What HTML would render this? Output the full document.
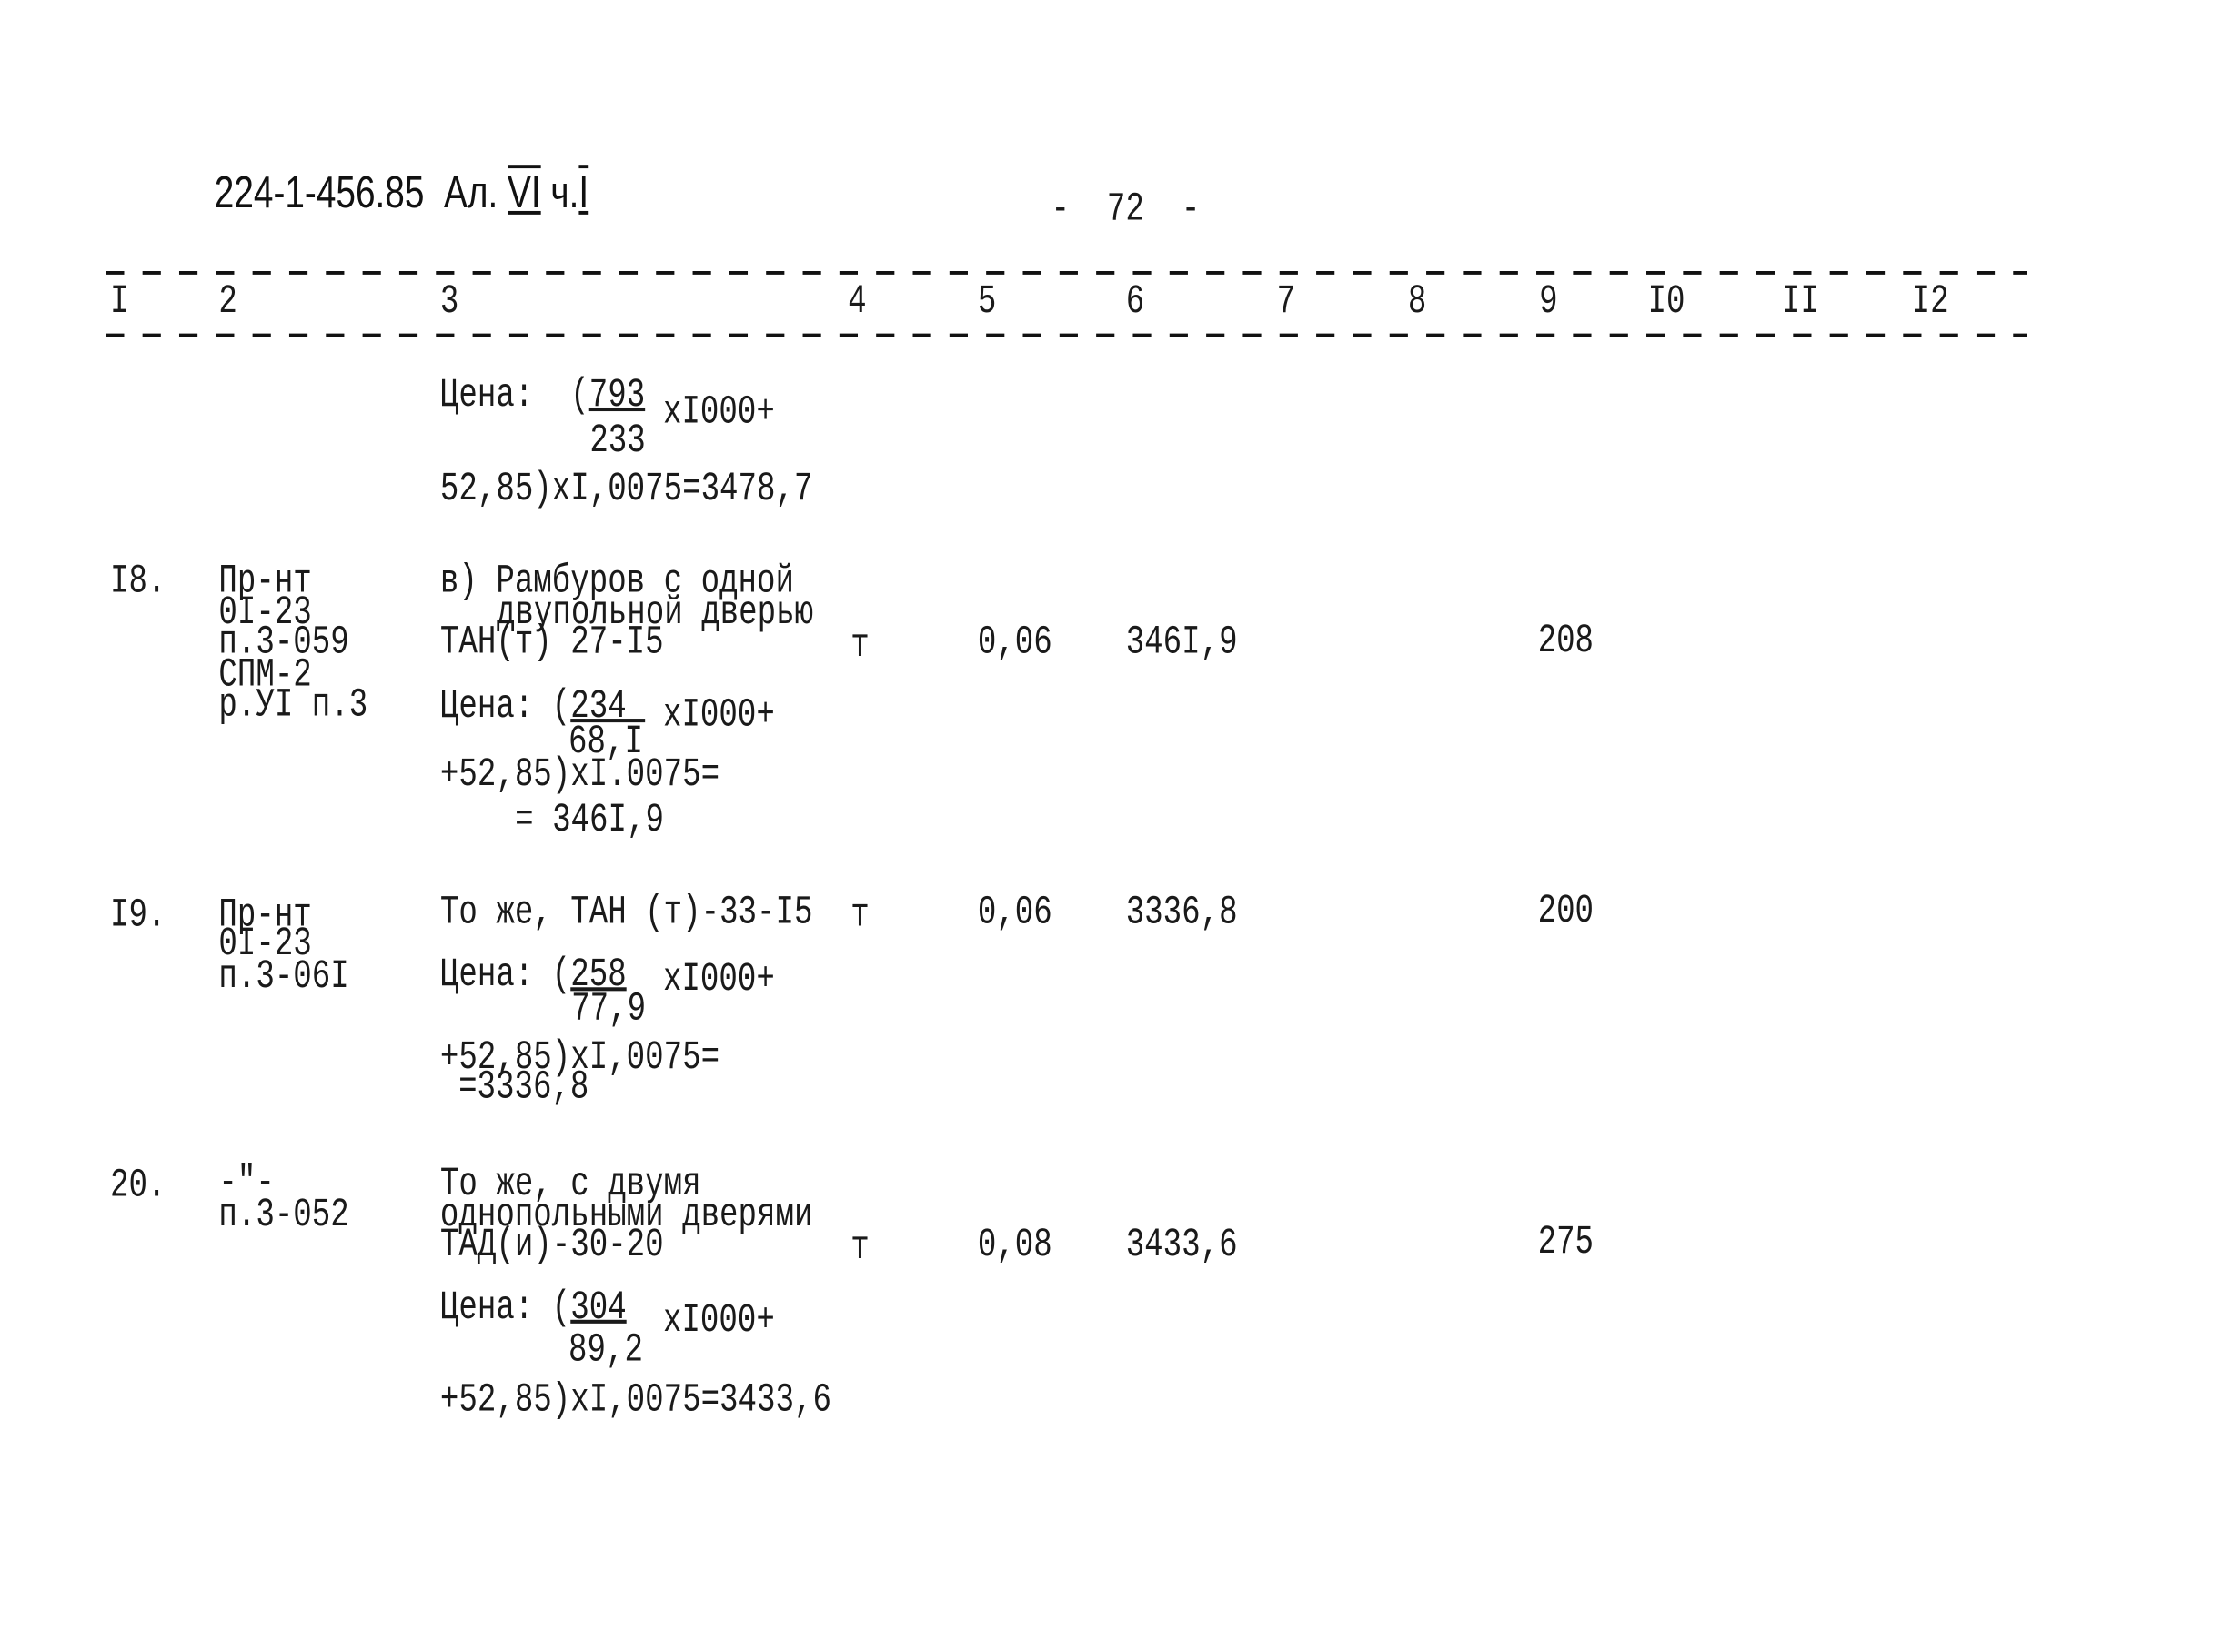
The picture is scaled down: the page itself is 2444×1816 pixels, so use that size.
<!DOCTYPE html>
<html><head><meta charset="utf-8"><style>
html,body{margin:0;padding:0;background:#fff;}
body{width:2444px;height:1816px;overflow:hidden;position:relative;}
#c{position:absolute;left:0;top:0;width:1552px;height:1160px;transform:scale(1.551,1.562);transform-origin:0 0;}
.t{position:absolute;font-family:"Liberation Mono","DejaVu Sans Mono",monospace;font-size:22px;line-height:22px;white-space:pre;color:#1a1a1a;transform:scaleY(1.3);transform-origin:0 50%;}
.u{text-decoration:underline;text-decoration-thickness:2px;}
.h{font-family:"Liberation Sans","DejaVu Sans",sans-serif;font-size:25px;line-height:24px;transform:scaleY(1.25);color:#111;}
</style></head><body><div id="c">
<svg width="1552" height="1160" style="position:absolute;left:0;top:0">
<line x1="75" y1="192" x2="1437" y2="192" stroke="#111" stroke-width="2.5" stroke-dasharray="13 13"/>
<line x1="75" y1="236" x2="1437" y2="236" stroke="#111" stroke-width="2.5" stroke-dasharray="13 13"/>
</svg>
<div class="t h" style="left:152px;top:124px">224-1-456.85  Ал. <span style="text-decoration:underline overline">VI</span> ч.<span style="text-decoration:underline overline">I</span></div>
<div class="t" style="left:745px;top:137px">-  72  -</div>

<div class="t" style="left:78px;top:202px">I</div>
<div class="t" style="left:155px;top:202px">2</div>
<div class="t" style="left:312px;top:202px">3</div>
<div class="t" style="left:601px;top:202px">4</div>
<div class="t" style="left:693px;top:202px">5</div>
<div class="t" style="left:798px;top:202px">6</div>
<div class="t" style="left:905px;top:202px">7</div>
<div class="t" style="left:998px;top:202px">8</div>
<div class="t" style="left:1091px;top:202px">9</div>
<div class="t" style="left:1168px;top:202px">I0</div>
<div class="t" style="left:1263px;top:202px">II</div>
<div class="t" style="left:1355px;top:202px">I2</div>

<div class="t" style="left:312px;top:268px">Цена:  (<span class="u">793</span></div>
<div class="t" style="left:470px;top:280px">xI000+</div>
<div class="t" style="left:418px;top:300px">233</div>
<div class="t" style="left:312px;top:334px">52,85)xI,0075=3478,7</div>

<div class="t" style="left:78px;top:399px">I8.</div>
<div class="t" style="left:155px;top:399px">Пр-нт</div>
<div class="t" style="left:155px;top:421px">0I-23</div>
<div class="t" style="left:155px;top:442px">п.3-059</div>
<div class="t" style="left:155px;top:465px">СПМ-2</div>
<div class="t" style="left:155px;top:486px">р.УI п.3</div>
<div class="t" style="left:312px;top:399px">в) Рамбуров с одной</div>
<div class="t" style="left:352px;top:421px">двупольной дверью</div>
<div class="t" style="left:312px;top:442px">ТАН(т) 27-I5</div>
<div class="t" style="left:603px;top:444px">т</div>
<div class="t" style="left:693px;top:442px">0,06</div>
<div class="t" style="left:798px;top:442px">346I,9</div>
<div class="t" style="left:1090px;top:441px">208</div>
<div class="t" style="left:312px;top:487px">Цена: (<span class="u">234 </span></div>
<div class="t" style="left:470px;top:493px">xI000+</div>
<div class="t" style="left:403px;top:512px">68,I</div>
<div class="t" style="left:312px;top:535px">+52,85)xI.0075=</div>
<div class="t" style="left:365px;top:567px">= 346I,9</div>

<div class="t" style="left:78px;top:634px">I9.</div>
<div class="t" style="left:155px;top:634px">Пр-нт</div>
<div class="t" style="left:155px;top:654px">0I-23</div>
<div class="t" style="left:155px;top:677px">п.3-06I</div>
<div class="t" style="left:312px;top:632px">То же, ТАН (т)-33-I5</div>
<div class="t" style="left:603px;top:634px">т</div>
<div class="t" style="left:693px;top:632px">0,06</div>
<div class="t" style="left:798px;top:632px">3336,8</div>
<div class="t" style="left:1090px;top:631px">200</div>
<div class="t" style="left:312px;top:676px">Цена: (<span class="u">258</span></div>
<div class="t" style="left:470px;top:679px">xI000+</div>
<div class="t" style="left:405px;top:700px">77,9</div>
<div class="t" style="left:312px;top:734px">+52,85)xI,0075=</div>
<div class="t" style="left:325px;top:755px">=3336,8</div>

<div class="t" style="left:78px;top:824px">20.</div>
<div class="t" style="left:155px;top:822px">-"-</div>
<div class="t" style="left:155px;top:845px">п.3-052</div>
<div class="t" style="left:312px;top:823px">То же, с двумя</div>
<div class="t" style="left:312px;top:845px">однопольными дверями</div>
<div class="t" style="left:312px;top:866px">ТАД(и)-30-20</div>
<div class="t" style="left:603px;top:868px">т</div>
<div class="t" style="left:693px;top:866px">0,08</div>
<div class="t" style="left:798px;top:866px">3433,6</div>
<div class="t" style="left:1090px;top:864px">275</div>
<div class="t" style="left:312px;top:910px">Цена: (<span class="u">304</span></div>
<div class="t" style="left:470px;top:919px">xI000+</div>
<div class="t" style="left:403px;top:940px">89,2</div>
<div class="t" style="left:312px;top:975px">+52,85)xI,0075=3433,6</div>
</div></body></html>
